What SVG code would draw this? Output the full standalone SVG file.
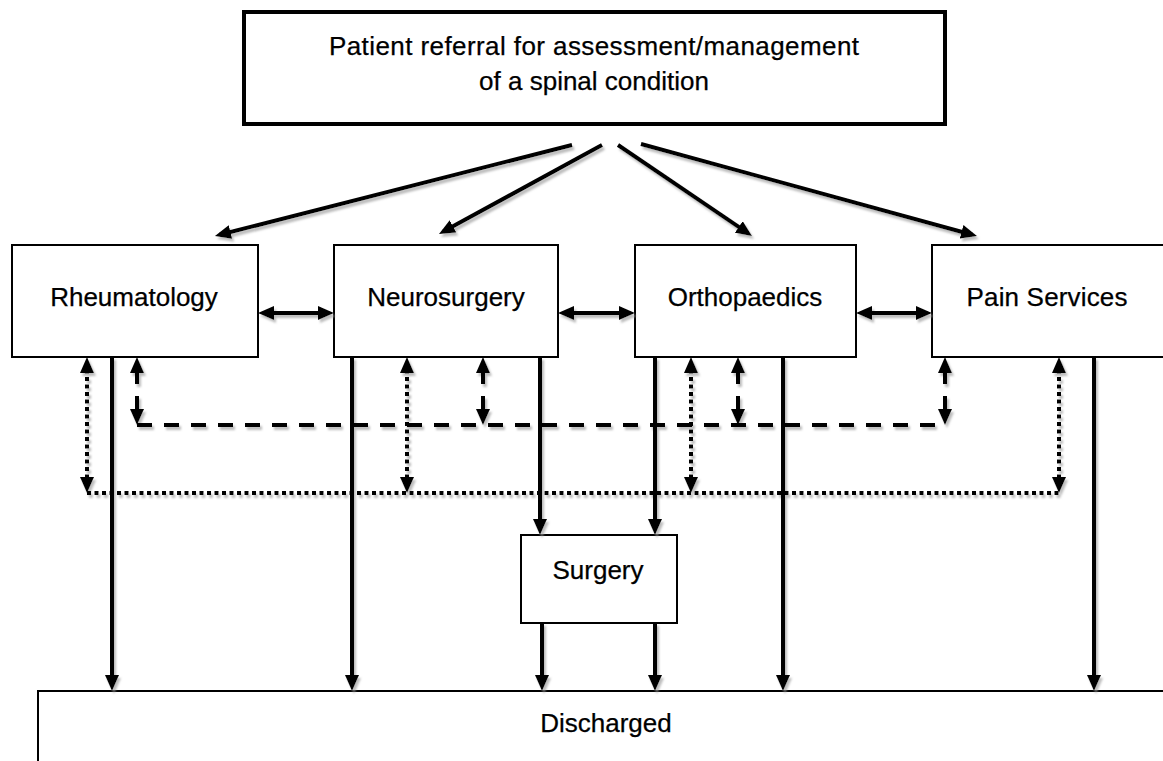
<svg xmlns="http://www.w3.org/2000/svg" width="1163" height="761" viewBox="0 0 1163 761">
<style>
  .box { fill: #ffffff; stroke: #000000; stroke-width: 2; }
  .lbl { font-family: "Liberation Sans", Arial, sans-serif; font-size: 26px; fill: #000000; stroke: #000000; stroke-width: 0.25; text-anchor: middle; }
  .ln { fill: none; stroke: #000000; stroke-width: 4; }
  .dash { stroke-dasharray: 15 12; }
  .dot { stroke-dasharray: 4 3.5; }
  .dd { stroke-dasharray: 22 12; }
  .arr { marker-end: url(#ah); }
  .bi { marker-start: url(#ah); marker-end: url(#ah); }
</style>
<defs>
  <marker id="ah" viewBox="0 0 16 14" refX="11" refY="7" markerWidth="16" markerHeight="14" markerUnits="userSpaceOnUse" orient="auto-start-reverse">
    <path d="M0,0 L16,7 L0,14 Z" fill="#000000"/>
  </marker>
  <filter id="sh" x="-10%" y="-10%" width="120%" height="130%">
    <feDropShadow dx="2" dy="3" stdDeviation="1" flood-color="#a0a0a0" flood-opacity="0.7"/>
  </filter>
</defs>
<rect width="1163" height="761" fill="#ffffff"/>

<g id="referral">
  <rect x="244" y="12" width="701" height="112" fill="#ffffff" stroke="#000000" stroke-width="4"/>
  <text class="lbl" x="594" y="55" textLength="530" lengthAdjust="spacing">Patient referral for assessment/management</text>
  <text class="lbl" x="594" y="90">of a spinal condition</text>
</g>

<g id="rheumatology">
  <rect class="box" x="12" y="245" width="246" height="112"/>
  <text class="lbl" x="134" y="306">Rheumatology</text>
</g>
<g id="neurosurgery">
  <rect class="box" x="334" y="245" width="224" height="112"/>
  <text class="lbl" x="446" y="306">Neurosurgery</text>
</g>
<g id="orthopaedics">
  <rect class="box" x="635" y="245" width="221" height="112"/>
  <text class="lbl" x="745" y="306">Orthopaedics</text>
</g>
<g id="pain-services">
  <rect class="box" x="932" y="245" width="234" height="112"/>
  <text class="lbl" x="1047" y="306" textLength="161" lengthAdjust="spacing">Pain Services</text>
</g>
<g id="surgery">
  <rect class="box" x="521" y="535" width="156" height="88"/>
  <text class="lbl" x="598" y="579">Surgery</text>
</g>
<g id="discharged">
  <rect class="box" x="38" y="691" width="1140" height="100"/>
  <text class="lbl" x="606" y="732">Discharged</text>
</g>

<g id="connectors" filter="url(#sh)">
  <!-- referral to departments -->
  <line class="ln arr" x1="572" y1="145" x2="219.8" y2="234.8"/>
  <line class="ln arr" x1="602" y1="145" x2="443.4" y2="231.6"/>
  <line class="ln arr" x1="618" y1="145" x2="747.9" y2="233.2"/>
  <line class="ln arr" x1="641" y1="144" x2="972.2" y2="234.7"/>

  <!-- horizontal two-way links -->
  <line class="ln bi" x1="263" y1="313" x2="329" y2="313"/>
  <line class="ln bi" x1="563" y1="313" x2="630" y2="313"/>
  <line class="ln bi" x1="861" y1="313" x2="927" y2="313"/>

  <!-- dashed network -->
  <line class="ln dash" x1="137" y1="425" x2="945" y2="425"/>
  <line class="ln dd bi" x1="137" y1="362" x2="137" y2="420"/>
  <line class="ln dd bi" x1="483" y1="362" x2="483" y2="420"/>
  <line class="ln dd bi" x1="738" y1="362" x2="738" y2="420"/>
  <line class="ln dd bi" x1="945" y1="362" x2="945" y2="420"/>

  <!-- dotted network -->
  <line class="ln dot" x1="87" y1="493" x2="1059" y2="493"/>
  <line class="ln dot bi" x1="87" y1="362" x2="87" y2="488"/>
  <line class="ln dot bi" x1="407" y1="362" x2="407" y2="488"/>
  <line class="ln dot bi" x1="691" y1="362" x2="691" y2="488"/>
  <line class="ln dot bi" x1="1059" y1="362" x2="1059" y2="488"/>

  <!-- to surgery -->
  <line class="ln arr" x1="540" y1="357" x2="540" y2="530"/>
  <line class="ln arr" x1="655" y1="357" x2="655" y2="530"/>

  <!-- to discharged -->
  <line class="ln arr" x1="112" y1="357" x2="112" y2="686"/>
  <line class="ln arr" x1="352" y1="357" x2="352" y2="686"/>
  <line class="ln arr" x1="542" y1="623" x2="542" y2="686"/>
  <line class="ln arr" x1="655" y1="623" x2="655" y2="686"/>
  <line class="ln arr" x1="783" y1="357" x2="783" y2="686"/>
  <line class="ln arr" x1="1094" y1="357" x2="1094" y2="686"/>
</g>
</svg>
